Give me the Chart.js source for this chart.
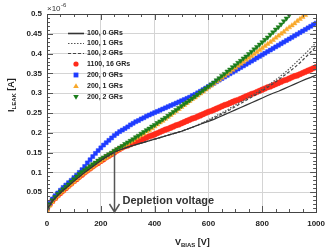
<!DOCTYPE html>
<html>
<head>
<meta charset="utf-8">
<script src="https://cdn.jsdelivr.net/npm/chart.js@4.4.1/dist/chart.umd.min.js"></script>
<style>
    html, body { margin: 0; padding: 0; background: #fff; }
    .chart-container { position: relative; width: 332px; height: 251px; }
</style>
</head>
<body>
<div class="chart-container">
    <canvas id="leakChart" width="332" height="251"></canvas>
</div>
<script>
// bias voltage [V] for the line curves, one reading every 20 V
const biasV = [0, 20, 40, 60, 80, 100, 120, 140, 160, 180, 200, 220, 240, 260, 280, 300, 320, 340, 360, 380,
    400, 420, 440, 460, 480, 500, 520, 540, 560, 580, 600, 620, 640, 660, 680, 700, 720, 740, 760, 780,
    800, 820, 840, 860, 880, 900, 920, 940, 960, 980, 1000];

// bias voltage [V] for the marker curves, one reading every 10 V
const biasVFine = [0, 10, 20, 30, 40, 50, 60, 70, 80, 90, 100, 110, 120, 130, 140, 150, 160, 170, 180, 190,
    200, 210, 220, 230, 240, 250, 260, 270, 280, 290, 300, 310, 320, 330, 340, 350, 360, 370, 380, 390,
    400, 410, 420, 430, 440, 450, 460, 470, 480, 490, 500, 510, 520, 530, 540, 550, 560, 570, 580, 590,
    600, 610, 620, 630, 640, 650, 660, 670, 680, 690, 700, 710, 720, 730, 740, 750, 760, 770, 780, 790,
    800, 810, 820, 830, 840, 850, 860, 870, 880, 890, 900, 910, 920, 930, 940, 950, 960, 970, 980, 990, 1000];

// leakage current in units of 1e-6 A
const leak100_0GR = [0.008, 0.028, 0.042, 0.055, 0.066, 0.078, 0.089, 0.100, 0.110, 0.120, 0.130, 0.139, 0.147, 0.154, 0.159, 0.164, 0.168, 0.172, 0.176, 0.180,
    0.184, 0.188, 0.192, 0.196, 0.200, 0.204, 0.209, 0.214, 0.219, 0.224, 0.229, 0.234, 0.240, 0.246, 0.252, 0.258, 0.264, 0.270, 0.276, 0.282,
    0.288, 0.294, 0.300, 0.305, 0.311, 0.317, 0.323, 0.329, 0.335, 0.340, 0.346];
const leak100_1GR = [0.008, 0.028, 0.042, 0.055, 0.066, 0.078, 0.089, 0.100, 0.110, 0.120, 0.130, 0.139, 0.147, 0.154, 0.159, 0.164, 0.168, 0.172, 0.176, 0.180,
    0.184, 0.188, 0.192, 0.196, 0.200, 0.204, 0.209, 0.214, 0.220, 0.226, 0.233, 0.240, 0.247, 0.254, 0.262, 0.270, 0.278, 0.286, 0.294, 0.302,
    0.310, 0.319, 0.329, 0.339, 0.350, 0.361, 0.374, 0.387, 0.400, 0.414, 0.428];
const leak100_2GR = [0.008, 0.028, 0.042, 0.055, 0.066, 0.078, 0.089, 0.100, 0.110, 0.120, 0.130, 0.139, 0.147, 0.154, 0.159, 0.164, 0.168, 0.172, 0.176, 0.180,
    0.184, 0.188, 0.192, 0.196, 0.200, 0.204, 0.209, 0.214, 0.219, 0.225, 0.231, 0.237, 0.244, 0.251, 0.258, 0.266, 0.274, 0.282, 0.290, 0.298,
    0.306, 0.315, 0.324, 0.334, 0.344, 0.354, 0.365, 0.377, 0.390, 0.404, 0.418];
const leak1100_16GR = [0.008, 0.019, 0.028, 0.035, 0.042, 0.048, 0.054, 0.060, 0.066, 0.072, 0.078, 0.083, 0.089, 0.094, 0.100, 0.105, 0.110, 0.115, 0.120, 0.124,
    0.129, 0.133, 0.138, 0.142, 0.146, 0.150, 0.155, 0.159, 0.163, 0.166, 0.168, 0.171, 0.174, 0.177, 0.179, 0.182, 0.185, 0.188, 0.191, 0.193,
    0.196, 0.199, 0.202, 0.205, 0.208, 0.210, 0.213, 0.216, 0.219, 0.221, 0.224, 0.227, 0.230, 0.233, 0.236, 0.238, 0.241, 0.244, 0.247, 0.250,
    0.253, 0.255, 0.258, 0.261, 0.264, 0.267, 0.270, 0.272, 0.275, 0.278, 0.281, 0.283, 0.286, 0.289, 0.292, 0.295, 0.298, 0.300, 0.303, 0.306,
    0.309, 0.312, 0.315, 0.317, 0.320, 0.323, 0.326, 0.329, 0.332, 0.334, 0.337, 0.340, 0.343, 0.345, 0.348, 0.351, 0.354, 0.357, 0.360, 0.363, 0.366];
const leak200_0GR = [0.008, 0.022, 0.033, 0.041, 0.048, 0.055, 0.062, 0.068, 0.074, 0.080, 0.087, 0.093, 0.100, 0.107, 0.115, 0.124, 0.132, 0.140, 0.148, 0.155,
    0.162, 0.169, 0.175, 0.181, 0.187, 0.193, 0.198, 0.203, 0.207, 0.211, 0.215, 0.220, 0.224, 0.228, 0.231, 0.235, 0.238, 0.242, 0.245, 0.248,
    0.251, 0.254, 0.257, 0.260, 0.263, 0.266, 0.269, 0.272, 0.275, 0.278, 0.281, 0.284, 0.287, 0.290, 0.294, 0.297, 0.301, 0.305, 0.309, 0.313,
    0.317, 0.321, 0.325, 0.329, 0.333, 0.337, 0.341, 0.345, 0.349, 0.353, 0.357, 0.361, 0.365, 0.369, 0.373, 0.377, 0.381, 0.385, 0.389, 0.393,
    0.397, 0.401, 0.405, 0.409, 0.413, 0.417, 0.421, 0.425, 0.429, 0.433, 0.437, 0.441, 0.445, 0.449, 0.453, 0.457, 0.461, 0.465, 0.469, 0.473, 0.477];
const leak200_1GR = [0.005, 0.016, 0.025, 0.033, 0.040, 0.047, 0.053, 0.059, 0.064, 0.070, 0.076, 0.082, 0.088, 0.094, 0.099, 0.104, 0.109, 0.114, 0.119, 0.124,
    0.128, 0.133, 0.137, 0.142, 0.146, 0.151, 0.155, 0.159, 0.163, 0.168, 0.172, 0.177, 0.181, 0.186, 0.190, 0.194, 0.198, 0.203, 0.207, 0.211,
    0.216, 0.221, 0.226, 0.230, 0.235, 0.240, 0.245, 0.250, 0.255, 0.260, 0.265, 0.270, 0.275, 0.280, 0.285, 0.289, 0.294, 0.299, 0.304, 0.309,
    0.314, 0.319, 0.324, 0.329, 0.334, 0.339, 0.344, 0.349, 0.354, 0.359, 0.364, 0.369, 0.374, 0.379, 0.384, 0.389, 0.394, 0.399, 0.404, 0.409,
    0.414, 0.419, 0.424, 0.429, 0.434, 0.440, 0.445, 0.450, 0.455, 0.461, 0.466, 0.471, 0.476, 0.482, 0.487, 0.492, 0.497];
const leak200_2GR = [0.008, 0.020, 0.030, 0.038, 0.046, 0.052, 0.058, 0.064, 0.070, 0.077, 0.083, 0.090, 0.096, 0.101, 0.106, 0.111, 0.116, 0.121, 0.125, 0.130,
    0.134, 0.138, 0.142, 0.146, 0.150, 0.155, 0.159, 0.163, 0.167, 0.172, 0.176, 0.180, 0.184, 0.189, 0.193, 0.198, 0.202, 0.207, 0.211, 0.216,
    0.220, 0.225, 0.229, 0.234, 0.238, 0.243, 0.248, 0.253, 0.258, 0.263, 0.268, 0.273, 0.277, 0.282, 0.287, 0.292, 0.297, 0.302, 0.307, 0.312,
    0.317, 0.322, 0.327, 0.333, 0.338, 0.344, 0.349, 0.355, 0.360, 0.366, 0.371, 0.377, 0.382, 0.388, 0.393, 0.399, 0.405, 0.411, 0.417, 0.423,
    0.429, 0.435, 0.441, 0.448, 0.454, 0.461, 0.467, 0.474, 0.482, 0.489, 0.497];

const seriesLabels = ['100, 0 GRs', '100, 1 GRs', '100, 2 GRs', '1100, 16 GRs', '200, 0 GRs', '200, 1 GRs', '200, 2 GRs'];

// depletion voltage arrow
const depletionV = 250;
const depletionI = 0.15;

const FONT = '"Liberation Sans", Arial, sans-serif';

function toPoints(xValues, values) {
    return values.map((v, i) => ({ x: xValues[i], y: v }));
}

function lineSet(label, values, dash, color, order) {
    return {
        label: label,
        data: toPoints(biasV, values),
        borderColor: color,
        borderWidth: 1.2,
        borderDash: dash,
        pointRadius: 0,
        fill: false,
        tension: 0,
        order: order
    };
}

function markerSet(label, values, color, style, rotation, order) {
    return {
        label: label,
        data: toPoints(biasVFine, values),
        showLine: false,
        pointStyle: style,
        pointRotation: rotation,
        pointRadius: 2.8,
        pointBackgroundColor: color,
        pointBorderColor: color,
        pointBorderWidth: 0.5,
        order: order
    };
}

const datasets = [
    lineSet(seriesLabels[0], leak100_0GR, [], '#333333', 1),
    lineSet(seriesLabels[1], leak100_1GR, [1.5, 1.5], '#555555', 2),
    lineSet(seriesLabels[2], leak100_2GR, [3, 2], '#444444', 3),
    markerSet(seriesLabels[3], leak1100_16GR, '#ff2a1a', 'circle', 0, 7),
    markerSet(seriesLabels[4], leak200_0GR, '#1f3cff', 'rect', 0, 6),
    markerSet(seriesLabels[5], leak200_1GR, '#f8a82a', 'triangle', 0, 5),
    markerSet(seriesLabels[6], leak200_2GR, '#1b7d1b', 'triangle', 180, 4)
];

// frame, inner ticks, legend, axis titles and annotation
const decorations = {
    id: 'decorations',
    afterDraw(chart) {
        const ctx = chart.ctx;
        const area = chart.chartArea;
        const xs = chart.scales.x;
        const ys = chart.scales.y;
        ctx.save();

        // inner ticks
        ctx.strokeStyle = '#555';
        ctx.lineWidth = 1;
        ctx.beginPath();
        for (let k = 0; k <= 20; k++) {
            const px = Math.round(xs.getPixelForValue(k * 50)) + 0.5;
            const len = k % 4 === 0 ? 6 : 3;
            ctx.moveTo(px, area.bottom); ctx.lineTo(px, area.bottom - len);
            ctx.moveTo(px, area.top); ctx.lineTo(px, area.top + len);
        }
        for (let k = 0; k <= 50; k++) {
            const py = Math.round(ys.getPixelForValue(k * 0.01)) + 0.5;
            const len = k % 5 === 0 ? 6 : 3;
            ctx.moveTo(area.left, py); ctx.lineTo(area.left + len, py);
            ctx.moveTo(area.right, py); ctx.lineTo(area.right - len, py);
        }
        ctx.stroke();

        // frame
        ctx.strokeStyle = '#444';
        ctx.strokeRect(Math.round(area.left) + 0.5, Math.round(area.top) + 0.5,
            Math.round(area.right - area.left), Math.round(area.bottom - area.top));

        // exponent
        ctx.fillStyle = '#333';
        ctx.textBaseline = 'alphabetic';
        ctx.textAlign = 'left';
        ctx.font = '8px ' + FONT;
        ctx.fillText('×10', area.left, 11);
        ctx.font = '6px ' + FONT;
        ctx.fillText('-6', area.left + 14, 7);

        // legend
        const rowY = [33, 43, 53, 64, 75, 86, 97];
        const symX = 76;
        datasets.forEach((ds, i) => {
            const y = rowY[i];
            if (ds.showLine === false) {
                ctx.fillStyle = ds.pointBackgroundColor;
                ctx.beginPath();
                if (ds.pointStyle === 'circle') {
                    ctx.arc(symX, y, 2.6, 0, Math.PI * 2);
                } else if (ds.pointStyle === 'rect') {
                    ctx.rect(symX - 2.4, y - 2.4, 4.8, 4.8);
                } else if (ds.pointRotation === 180) {
                    ctx.moveTo(symX - 2.8, y - 2); ctx.lineTo(symX + 2.8, y - 2); ctx.lineTo(symX, y + 2.8);
                } else {
                    ctx.moveTo(symX - 2.8, y + 2); ctx.lineTo(symX + 2.8, y + 2); ctx.lineTo(symX, y - 2.8);
                }
                ctx.fill();
            } else {
                ctx.strokeStyle = ds.borderColor;
                ctx.lineWidth = i === 0 ? 1.6 : 1.2;
                ctx.setLineDash(ds.borderDash);
                ctx.beginPath();
                ctx.moveTo(68, y + 0.5); ctx.lineTo(84, y + 0.5);
                ctx.stroke();
                ctx.setLineDash([]);
            }
            ctx.fillStyle = '#222';
            ctx.font = 'bold 7px ' + FONT;
            ctx.textBaseline = 'middle';
            ctx.fillText(ds.label, 87, y + 0.5);
        });

        // depletion voltage arrow
        const ax = Math.round(xs.getPixelForValue(depletionV)) + 0.5;
        const ay1 = ys.getPixelForValue(depletionI);
        const ay2 = area.bottom;
        ctx.strokeStyle = '#555';
        ctx.lineWidth = 1.5;
        ctx.beginPath();
        ctx.moveTo(ax, ay1); ctx.lineTo(ax, ay2);
        ctx.moveTo(ax - 5, ay2 - 8); ctx.lineTo(ax, ay2); ctx.lineTo(ax + 5, ay2 - 8);
        ctx.stroke();
        ctx.fillStyle = '#333';
        ctx.font = 'bold 11px ' + FONT;
        ctx.textBaseline = 'alphabetic';
        ctx.fillText('Depletion voltage', ax + 8, 204);

        // x title
        ctx.fillStyle = '#222';
        let tx = 175;
        ctx.font = 'bold 9px ' + FONT;
        ctx.fillText('V', tx, 245);
        tx += ctx.measureText('V').width;
        ctx.font = 'bold 6px ' + FONT;
        ctx.fillText('BIAS', tx, 247);
        tx += ctx.measureText('BIAS').width;
        ctx.font = 'bold 9px ' + FONT;
        ctx.fillText(' [V]', tx, 245);

        // y title
        ctx.translate(14, 112);
        ctx.rotate(-Math.PI / 2);
        let ty = 0;
        ctx.font = 'bold 9px ' + FONT;
        ctx.fillText('I', ty, 0);
        ty += ctx.measureText('I').width;
        ctx.font = 'bold 6px ' + FONT;
        ctx.fillText('LEAK', ty, 2);
        ty += ctx.measureText('LEAK').width;
        ctx.font = 'bold 9px ' + FONT;
        ctx.fillText(' [A]', ty, 0);

        ctx.restore();
    }
};

function initializeChart() {
    const ctx = document.getElementById('leakChart').getContext('2d');
    return new Chart(ctx, {
        type: 'line',
        data: { datasets: datasets },
        options: {
            responsive: false,
            animation: false,
            layout: { padding: { top: 14, right: 12, left: 0, bottom: 0 } },
            plugins: {
                legend: { display: false },
                tooltip: { enabled: false }
            },
            scales: {
                x: {
                    type: 'linear',
                    min: 0,
                    max: 1000,
                    ticks: {
                        stepSize: 200,
                        padding: 7,
                        color: '#222',
                        font: { family: FONT, size: 8, weight: 'bold' },
                        maxRotation: 0,
                        callback: (value) => String(value)
                    },
                    grid: { color: '#d4d4d4', lineWidth: 1, drawTicks: false },
                    border: { display: false },
                    afterFit(scale) { scale.height = 39; }
                },
                y: {
                    min: 0,
                    max: 0.5,
                    ticks: {
                        stepSize: 0.05,
                        padding: 5,
                        color: '#222',
                        font: { family: FONT, size: 8, weight: 'bold' },
                        callback: (value) => value === 0 ? '' : String(+value.toFixed(2))
                    },
                    grid: { color: '#d4d4d4', lineWidth: 1, drawTicks: false },
                    border: { display: false },
                    afterFit(scale) { scale.width = 47; }
                }
            }
        },
        plugins: [decorations]
    });
}

initializeChart();
</script>
</body>
</html>
